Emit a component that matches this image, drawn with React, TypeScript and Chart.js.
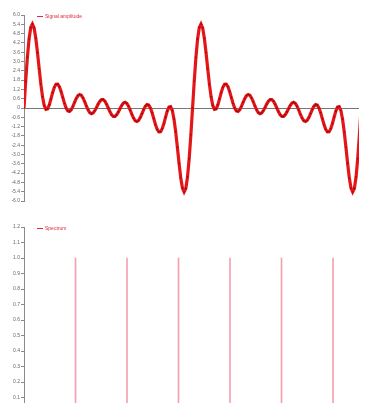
import React, { useEffect, useRef } from "react";
import { Chart, registerables } from "chart.js";
Chart.register(...registerables);

const signalLabel = "Signal amplitude";
const spectrumLabel = "Spectrum";

const timeValues = [
  0, 0.01, 0.02, 0.03, 0.04, 0.05, 0.06, 0.07, 0.08, 0.09,
  0.1, 0.11, 0.12, 0.13, 0.14, 0.15, 0.16, 0.17, 0.18, 0.19,
  0.2, 0.21, 0.22, 0.23, 0.24, 0.25, 0.26, 0.27, 0.28, 0.29,
  0.3, 0.31, 0.32, 0.33, 0.34, 0.35, 0.36, 0.37, 0.38, 0.39,
  0.4, 0.41, 0.42, 0.43, 0.44, 0.45, 0.46, 0.47, 0.48, 0.49,
  0.5, 0.51, 0.52, 0.53, 0.54, 0.55, 0.56, 0.57, 0.58, 0.59,
  0.6, 0.61, 0.62, 0.63, 0.64, 0.65, 0.66, 0.67, 0.68, 0.69,
  0.7, 0.71, 0.72, 0.73, 0.74, 0.75, 0.76, 0.77, 0.78, 0.79,
  0.8, 0.81, 0.82, 0.83, 0.84, 0.85, 0.86, 0.87, 0.88, 0.89,
  0.9, 0.91, 0.92, 0.93, 0.94, 0.95, 0.96, 0.97, 0.98, 0.99,
  1, 1.01, 1.02, 1.03, 1.04, 1.05, 1.06, 1.07, 1.08, 1.09,
  1.1, 1.11, 1.12, 1.13, 1.14, 1.15, 1.16, 1.17, 1.18, 1.19,
  1.2, 1.21, 1.22, 1.23, 1.24, 1.25, 1.26, 1.27, 1.28, 1.29,
  1.3, 1.31, 1.32, 1.33, 1.34, 1.35, 1.36, 1.37, 1.38, 1.39,
  1.4, 1.41, 1.42, 1.43, 1.44, 1.45, 1.46, 1.47, 1.48, 1.49,
  1.5, 1.51, 1.52, 1.53, 1.54, 1.55, 1.56, 1.57, 1.58, 1.59,
  1.6, 1.61, 1.62, 1.63, 1.64, 1.65, 1.66, 1.67, 1.68, 1.69,
  1.7, 1.71, 1.72, 1.73, 1.74, 1.75, 1.76, 1.77, 1.78, 1.79,
  1.8, 1.81, 1.82, 1.83, 1.84, 1.85, 1.86, 1.87, 1.88, 1.89,
  1.9, 1.91, 1.92, 1.93, 1.94, 1.95, 1.96, 1.97, 1.98, 1.99,
  2, 2.01, 2.02, 2.03, 2.04, 2.05,
];

const signalValues = [
  0, 1.727, 3.267, 4.458, 5.191, 5.417, 5.159, 4.501, 3.574, 2.535,
  1.539, 0.719, 0.164, -0.088, -0.054, 0.203, 0.589, 0.999, 1.336, 1.528,
  1.539, 1.371, 1.065, 0.685, 0.307, 0, -0.183, -0.218, -0.111, 0.101,
  0.363, 0.614, 0.796, 0.869, 0.818, 0.652, 0.406, 0.131, -0.118, -0.293,
  -0.363, -0.319, -0.175, 0.032, 0.253, 0.437, 0.542, 0.543, 0.437, 0.243,
  0, -0.243, -0.437, -0.543, -0.542, -0.437, -0.253, -0.032, 0.175, 0.319,
  0.363, 0.293, 0.118, -0.131, -0.406, -0.652, -0.818, -0.869, -0.796, -0.614,
  -0.363, -0.101, 0.111, 0.218, 0.183, 0, -0.307, -0.685, -1.065, -1.371,
  -1.539, -1.528, -1.336, -0.999, -0.589, -0.203, 0.054, 0.088, -0.164, -0.719,
  -1.539, -2.535, -3.574, -4.501, -5.159, -5.417, -5.191, -4.458, -3.267, -1.727,
  0, 1.727, 3.267, 4.458, 5.191, 5.417, 5.159, 4.501, 3.574, 2.535,
  1.539, 0.719, 0.164, -0.088, -0.054, 0.203, 0.589, 0.999, 1.336, 1.528,
  1.539, 1.371, 1.065, 0.685, 0.307, 0, -0.183, -0.218, -0.111, 0.101,
  0.363, 0.614, 0.796, 0.869, 0.818, 0.652, 0.406, 0.131, -0.118, -0.293,
  -0.363, -0.319, -0.175, 0.032, 0.253, 0.437, 0.542, 0.543, 0.437, 0.243,
  0, -0.243, -0.437, -0.543, -0.542, -0.437, -0.253, -0.032, 0.175, 0.319,
  0.363, 0.293, 0.118, -0.131, -0.406, -0.652, -0.818, -0.869, -0.796, -0.614,
  -0.363, -0.101, 0.111, 0.218, 0.183, 0, -0.307, -0.685, -1.065, -1.371,
  -1.539, -1.528, -1.336, -0.999, -0.589, -0.203, 0.054, 0.088, -0.164, -0.719,
  -1.539, -2.535, -3.574, -4.501, -5.159, -5.417, -5.191, -4.458, -3.267, -1.727,
  0, 1.727, 3.267, 4.458, 5.191, 5.417,
];

const harmonicFreqs = [1, 2, 3, 4, 5, 6, 7];
const harmonicAmps = [1, 1, 1, 1, 1, 1, 1];

const timeAxisMax = 2.035;
const signalMin = -6;
const signalMax = 6;
const signalStep = 0.6;
const freqAxisMax = 6.66;
const freqStep = 0.9;
const ampMax = 1.2;
const ampStep = 0.1;

Chart.defaults.font.family = "Arial, 'Liberation Sans', sans-serif";

const tickFont = { size: 5 };
const axisGray = "#8a8a8a";
const labelGray = "#666";
const legendRed = "rgb(225,40,60)";

function yAxisCommon(min: number, max: number, step: number, zeroLine: boolean) {
  return {
    min,
    max,
    afterFit: (s: any) => {
      s.width = 24;
    },
    ticks: { stepSize: step, font: tickFont, color: labelGray, padding: 1 },
    grid: zeroLine
      ? {
          drawOnChartArea: true,
          drawTicks: true,
          tickLength: 3,
          tickColor: axisGray,
          color: (c: any) => (c.tick && Math.abs(c.tick.value) < 1e-9 ? "#777" : "rgba(0,0,0,0)"),
        }
      : { drawOnChartArea: false, drawTicks: true, tickLength: 3, color: axisGray },
    border: { display: true, color: axisGray },
  };
}

const inlineLegend = {
  id: "inlineLegend",
  afterDraw(chart: any) {
    const { ctx, chartArea } = chart;
    const ds = chart.data.datasets[0];
    const x0 = chartArea.left + 13;
    const y0 = chartArea.top + 1;
    ctx.save();
    ctx.strokeStyle = legendRed;
    ctx.lineWidth = 1;
    ctx.beginPath();
    ctx.moveTo(x0, y0 + 0.5);
    ctx.lineTo(x0 + 6, y0 + 0.5);
    ctx.stroke();
    ctx.fillStyle = legendRed;
    ctx.font = "5px Arial";
    ctx.textBaseline = "middle";
    ctx.fillText(ds.label, x0 + 8, y0 + 0.5);
    ctx.restore();
  },
};

function SignalChart() {
  const ref = useRef<HTMLCanvasElement | null>(null);
  useEffect(() => {
    if (!ref.current) return;
    const chart = new Chart(ref.current, {
      type: "line",
      data: {
        datasets: [
          {
            label: signalLabel,
            data: timeValues.map((t, i) => ({ x: t, y: signalValues[i] })),
            borderColor: "rgb(228,22,26)",
            backgroundColor: "rgb(228,22,26)",
            borderWidth: 3.2,
            pointRadius: 0.8,
            pointBorderWidth: 0,
            pointBackgroundColor: "rgba(130,0,0,0.85)",
            tension: 0,
          },
        ],
      },
      options: {
        animation: false,
        responsive: false,
        layout: { autoPadding: false, padding: { top: 15, bottom: 1, left: 0, right: 0 } } as any,
        plugins: { legend: { display: false }, tooltip: { enabled: false } },
        scales: {
          x: {
            type: "linear",
            display: false,
            min: 0,
            max: timeAxisMax,
          },
          y: yAxisCommon(signalMin, signalMax, signalStep, true) as any,
        },
      },
      plugins: [inlineLegend],
    });
    return () => chart.destroy();
  }, []);
  return <canvas ref={ref} width={367} height={205} style={{ display: "block" }} />;
}

function SpectrumChart() {
  const ref = useRef<HTMLCanvasElement | null>(null);
  useEffect(() => {
    if (!ref.current) return;
    const chart = new Chart(ref.current, {
      type: "bar",
      data: {
        datasets: [
          {
            label: spectrumLabel,
            data: harmonicFreqs.map((f, i) => ({ x: f, y: harmonicAmps[i] })),
            backgroundColor: "rgba(240,120,145,0.7)",
            borderColor: "rgba(240,120,145,0.7)",
            borderWidth: 0,
            barThickness: 1,
          } as any,
        ],
      },
      options: {
        animation: false,
        responsive: false,
        layout: { autoPadding: false, padding: { top: 22, bottom: 0, left: 0, right: 0 } } as any,
        plugins: { legend: { display: false }, tooltip: { enabled: false } },
        scales: {
          x: {
            type: "linear",
            min: 0,
            max: freqAxisMax,
            offset: false,
            afterBuildTicks: (s: any) => {
              s.ticks = s.ticks.filter(
                (t: any) => Math.abs(t.value / freqStep - Math.round(t.value / freqStep)) < 1e-6
              );
            },
            afterFit: (s: any) => {
              s.height = 12;
            },
            ticks: { stepSize: freqStep, font: tickFont, color: labelGray, padding: 1 },
            grid: { drawOnChartArea: false, drawTicks: true, tickLength: 3, color: axisGray },
            border: { display: true, color: axisGray },
          },
          y: yAxisCommon(0, ampMax, ampStep, false) as any,
        },
      },
      plugins: [inlineLegend],
    });
    return () => chart.destroy();
  }, []);
  return <canvas ref={ref} width={367} height={220} style={{ display: "block" }} />;
}

export default function App() {
  return (
    <div
      style={{
        margin: "-8px",
        width: 367,
        height: 411,
        overflow: "hidden",
        background: "#fff",
      }}
    >
      <SignalChart />
      <SpectrumChart />
    </div>
  );
}
